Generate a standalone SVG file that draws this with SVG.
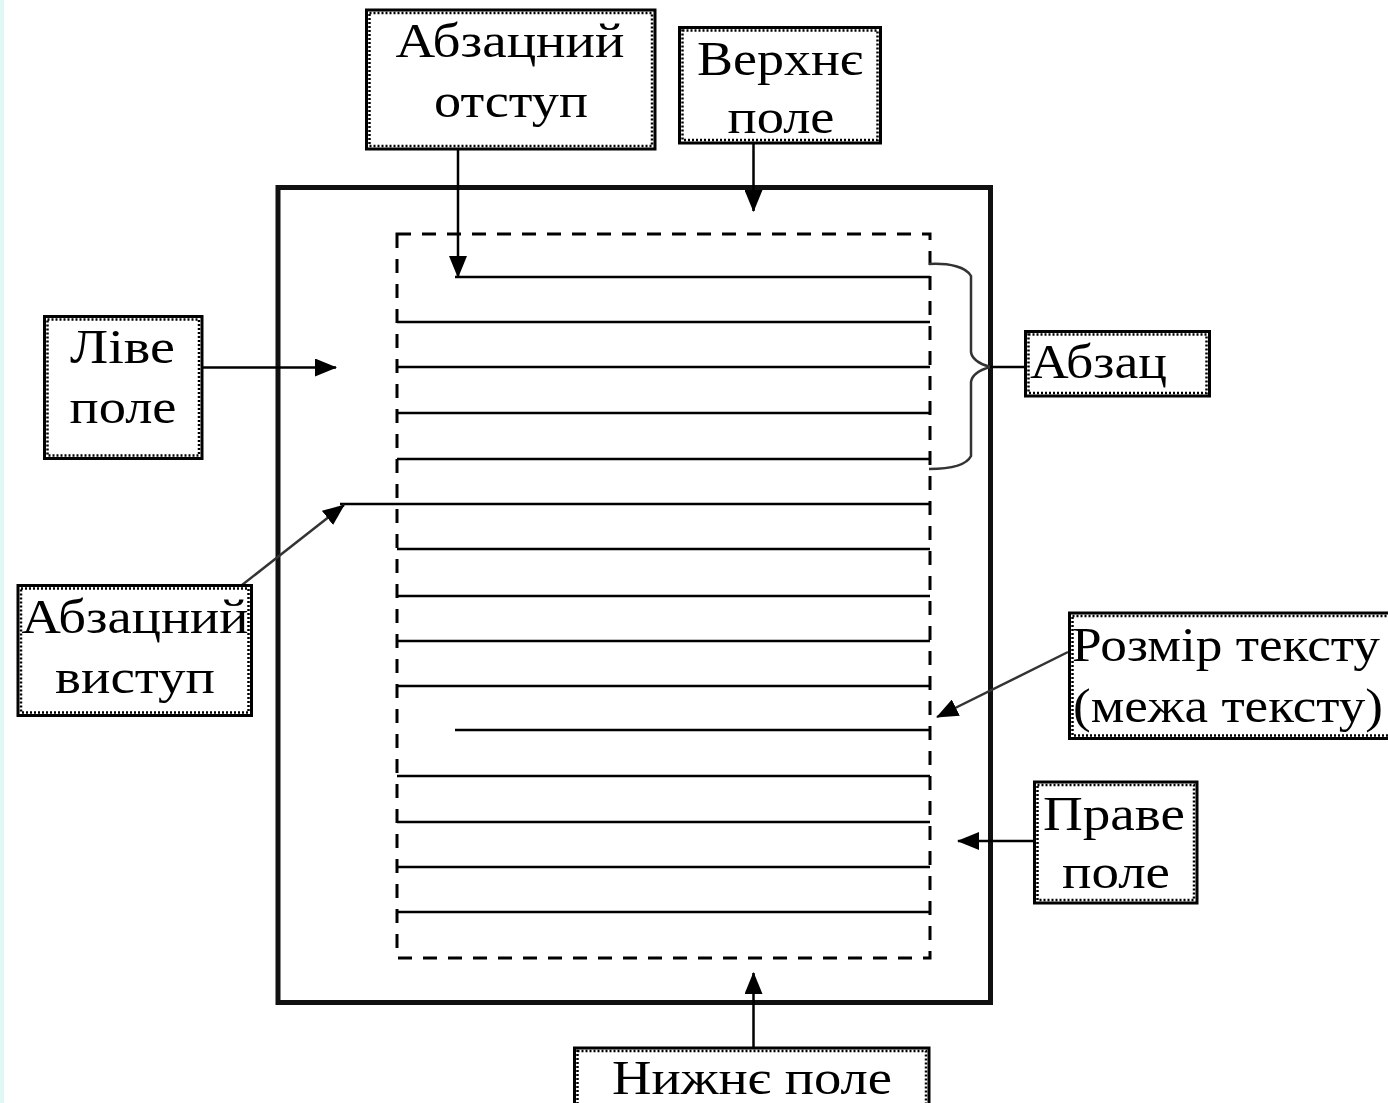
<svg xmlns="http://www.w3.org/2000/svg" width="1388" height="1103" viewBox="0 0 1388 1103">
<defs>
<style>
.bo{fill:#fff;stroke:#000;stroke-width:3}
.bi{fill:none;stroke:#000;stroke-width:2.5;stroke-dasharray:2 2}
.t{font-family:"Liberation Serif","Times New Roman",serif;font-size:48px;fill:#000}
.ln{stroke:#000;stroke-width:2.5;fill:none}
.cn{stroke:#000;stroke-width:2.5;fill:none}
.cg{stroke:#333;stroke-width:2.5;fill:none}
</style>
<marker id="ah" markerUnits="userSpaceOnUse" markerWidth="22" markerHeight="18" refX="21" refY="9" orient="auto">
<path d="M0,0 L22,9 L0,18 Z" fill="#000"/>
</marker>
</defs>
<rect x="0" y="0" width="1388" height="1103" fill="#fff"/>
<rect x="0" y="0" width="4" height="1103" fill="#e0f7f3"/>

<g id="page">
<rect x="278" y="187.5" width="712.5" height="815" fill="none" stroke="#111" stroke-width="5"/>
<rect x="397" y="234" width="533" height="724" fill="none" stroke="#000" stroke-width="3" stroke-dasharray="14 11"/>
</g>

<g id="text-lines">
<line class="ln" x1="455" y1="277" x2="930" y2="277"/>
<line class="ln" x1="397" y1="322" x2="930" y2="322"/>
<line class="ln" x1="397" y1="367" x2="930" y2="367"/>
<line class="ln" x1="397" y1="413" x2="930" y2="413"/>
<line class="ln" x1="397" y1="459" x2="930" y2="459"/>
<line class="ln" x1="340" y1="504" x2="930" y2="504"/>
<line class="ln" x1="397" y1="549" x2="930" y2="549"/>
<line class="ln" x1="397" y1="596" x2="930" y2="596"/>
<line class="ln" x1="397" y1="641" x2="930" y2="641"/>
<line class="ln" x1="397" y1="686" x2="930" y2="686"/>
<line class="ln" x1="455" y1="730" x2="930" y2="730"/>
<line class="ln" x1="397" y1="776" x2="930" y2="776"/>
<line class="ln" x1="397" y1="822" x2="930" y2="822"/>
<line class="ln" x1="397" y1="867" x2="930" y2="867"/>
<line class="ln" x1="397" y1="912" x2="930" y2="912"/>
</g>

<g id="connectors">
<line class="cn" x1="458" y1="150" x2="458" y2="277" marker-end="url(#ah)"/>
<line class="cn" x1="753.5" y1="144" x2="753.5" y2="211" marker-end="url(#ah)"/>
<line class="cn" x1="203" y1="367.5" x2="336" y2="367.5" marker-end="url(#ah)"/>
<line class="cg" x1="228" y1="596" x2="344" y2="505" marker-end="url(#ah)"/>
<line class="cg" x1="1068" y1="652" x2="937" y2="717" marker-end="url(#ah)"/>
<line class="cn" x1="1033" y1="841" x2="958" y2="841" marker-end="url(#ah)"/>
<line class="cn" x1="753.5" y1="1047" x2="753.5" y2="973" marker-end="url(#ah)"/>
<path class="cg" d="M929,264 C950,263 966,267 971,276 L971,352 C972,360 980,364 990,367 C980,370 972,374 971,382 L971,456 C966,466 950,469 929,469"/>
<line class="cn" x1="990" y1="367" x2="1024" y2="367"/>
</g>

<g id="node-abzatsnyi-otstup">
<rect class="bo" x="366.5" y="10" width="288.5" height="139"/>
<rect class="bi" x="369.5" y="13" width="282.5" height="133"/>
<text class="t" x="510" y="57" text-anchor="middle" textLength="229" lengthAdjust="spacingAndGlyphs">Абзацний</text>
<text class="t" x="511" y="117" text-anchor="middle" textLength="154" lengthAdjust="spacingAndGlyphs">отступ</text>
</g>

<g id="node-verkhnie-pole">
<rect class="bo" x="679.5" y="27.5" width="201" height="115.5"/>
<rect class="bi" x="682.5" y="30.5" width="195" height="109.5"/>
<text class="t" x="780" y="75" text-anchor="middle" textLength="166" lengthAdjust="spacingAndGlyphs">Верхнє</text>
<text class="t" x="781" y="133" text-anchor="middle" textLength="107" lengthAdjust="spacingAndGlyphs">поле</text>
</g>

<g id="node-live-pole">
<rect class="bo" x="44.5" y="316.5" width="157.5" height="142"/>
<rect class="bi" x="47.5" y="319.5" width="151.5" height="136"/>
<text class="t" x="122.5" y="363" text-anchor="middle" textLength="105" lengthAdjust="spacingAndGlyphs">Ліве</text>
<text class="t" x="123" y="423" text-anchor="middle" textLength="107" lengthAdjust="spacingAndGlyphs">поле</text>
</g>

<g id="node-abzats">
<rect class="bo" x="1025.5" y="331.5" width="184" height="64.5"/>
<rect class="bi" x="1028.5" y="334.5" width="178" height="58.5"/>
<text class="t" x="1030" y="378" textLength="137" lengthAdjust="spacingAndGlyphs">Абзац</text>
</g>

<g id="node-abzatsnyi-vystup">
<rect class="bo" x="18" y="585.5" width="233.5" height="130"/>
<rect class="bi" x="21" y="588.5" width="227.5" height="124"/>
<text class="t" x="135" y="632.5" text-anchor="middle" textLength="227" lengthAdjust="spacingAndGlyphs">Абзацний</text>
<text class="t" x="135" y="692.5" text-anchor="middle" textLength="160" lengthAdjust="spacingAndGlyphs">виступ</text>
</g>

<g id="node-rozmir-tekstu">
<rect class="bo" x="1069.5" y="613" width="330" height="125.5"/>
<rect class="bi" x="1072.5" y="616" width="324" height="119.5"/>
<text class="t" x="1072" y="660.5" textLength="308" lengthAdjust="spacingAndGlyphs">Розмір тексту</text>
<text class="t" x="1073" y="721.5" textLength="310" lengthAdjust="spacingAndGlyphs">(межа тексту)</text>
</g>

<g id="node-prave-pole">
<rect class="bo" x="1034.5" y="782" width="162.5" height="121"/>
<rect class="bi" x="1037.5" y="785" width="156.5" height="115"/>
<text class="t" x="1114" y="830" text-anchor="middle" textLength="142" lengthAdjust="spacingAndGlyphs">Праве</text>
<text class="t" x="1116" y="888" text-anchor="middle" textLength="108" lengthAdjust="spacingAndGlyphs">поле</text>
</g>

<g id="node-nyzhnie-pole">
<rect class="bo" x="574.5" y="1048" width="354.5" height="70"/>
<rect class="bi" x="577.5" y="1051" width="348.5" height="64"/>
<text class="t" x="752" y="1094" text-anchor="middle" textLength="280" lengthAdjust="spacingAndGlyphs">Нижнє поле</text>
</g>
</svg>
